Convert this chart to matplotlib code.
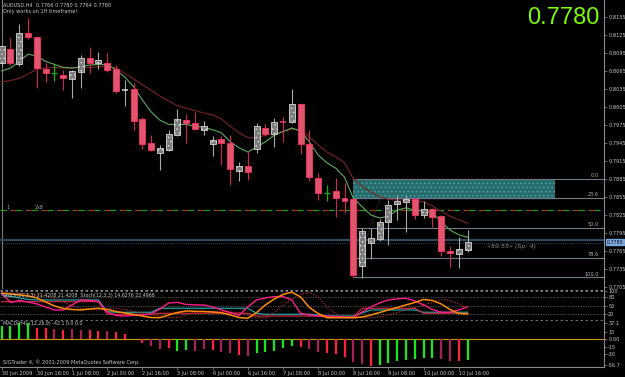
import numpy as np
import matplotlib
matplotlib.use('Agg')
import matplotlib.pyplot as plt
from matplotlib.patches import Rectangle

# AUDUSD H4 bars, 30 Jun 2009 00:00 .. 10 Jul 2009 20:00
opens = [0.8078, 0.8102, 0.8077, 0.8128, 0.8121, 0.8069, 0.8061, 0.8058, 0.8052, 0.8064,
         0.8087, 0.8078, 0.8079, 0.8068, 0.8033, 0.8035, 0.7985, 0.7945, 0.7928, 0.7933,
         0.7958, 0.7983, 0.7978, 0.7967, 0.7943, 0.7952, 0.7945, 0.7899, 0.7907, 0.7935,
         0.7970, 0.7960, 0.7980, 0.7980, 0.8010, 0.7943, 0.7887, 0.7862, 0.7865, 0.7854,
         0.7851, 0.7740, 0.7779, 0.7785, 0.7813, 0.7843, 0.7847, 0.7852, 0.7825, 0.7835,
         0.7823, 0.7765, 0.7760, 0.7766]
highs = [0.8108, 0.8120, 0.8143, 0.8154, 0.8122, 0.8078, 0.8076, 0.8067, 0.8067, 0.8092,
         0.8105, 0.8097, 0.8095, 0.8075, 0.8050, 0.8045, 0.7988, 0.7958, 0.7942, 0.7966,
         0.8001, 0.7993, 0.7996, 0.7981, 0.7957, 0.7957, 0.7958, 0.7914, 0.7932, 0.7978,
         0.7976, 0.7986, 0.7989, 0.8035, 0.8011, 0.7967, 0.7895, 0.7875, 0.7886, 0.7878,
         0.7852, 0.7803, 0.7803, 0.7818, 0.7850, 0.7858, 0.7858, 0.7855, 0.7849, 0.7836,
         0.7825, 0.7773, 0.7789, 0.7800]
lows = [0.8073, 0.8075, 0.8073, 0.8118, 0.8037, 0.8047, 0.8048, 0.8033, 0.8020, 0.8036,
        0.8062, 0.8069, 0.8064, 0.8028, 0.8006, 0.7967, 0.7935, 0.7932, 0.7900, 0.7932,
        0.7957, 0.7945, 0.7966, 0.7958, 0.7923, 0.7908, 0.7875, 0.7882, 0.7883, 0.7928,
        0.7957, 0.7939, 0.7947, 0.7978, 0.7927, 0.7881, 0.7850, 0.7849, 0.7822, 0.7828,
        0.7721, 0.7720, 0.7751, 0.7782, 0.7775, 0.7817, 0.7796, 0.7818, 0.7820, 0.7805,
        0.7756, 0.7738, 0.7736, 0.7764]
closes = [0.8106, 0.8078, 0.8129, 0.8121, 0.8070, 0.8062, 0.8061, 0.8053, 0.8065, 0.8086,
          0.8079, 0.8083, 0.8067, 0.8032, 0.8034, 0.7982, 0.7944, 0.7933, 0.7936, 0.7960,
          0.7985, 0.7978, 0.7968, 0.7973, 0.7950, 0.7945, 0.7901, 0.7907, 0.7896, 0.7973,
          0.7960, 0.7980, 0.7979, 0.8010, 0.7943, 0.7888, 0.7861, 0.7862, 0.7853, 0.7849,
          0.7725, 0.7799, 0.7786, 0.7813, 0.7841, 0.7849, 0.7852, 0.7825, 0.7835, 0.7822,
          0.7765, 0.7762, 0.7768, 0.7780]

ma_fast = [0.8065, 0.8070, 0.8081, 0.8093, 0.8090, 0.8081, 0.8076, 0.8071, 0.8070, 0.8072,
           0.8075, 0.8076, 0.8076, 0.8067, 0.8055, 0.8039, 0.8017, 0.7997, 0.7983, 0.7976,
           0.7976, 0.7976, 0.7973, 0.7971, 0.7967, 0.7962, 0.7947, 0.7937, 0.7930, 0.7938,
           0.7947, 0.7958, 0.7964, 0.7970, 0.7965, 0.7947, 0.7925, 0.7912, 0.7903, 0.7888,
           0.7853, 0.7839, 0.7825, 0.7820, 0.7823, 0.7833, 0.7837, 0.7833, 0.7832, 0.7828,
           0.7814, 0.7800, 0.7792, 0.7788]
ma_slow = [0.8047, 0.8049, 0.8053, 0.8060, 0.8068, 0.8070, 0.8071, 0.8070, 0.8070, 0.8070,
           0.8071, 0.8072, 0.8073, 0.8070, 0.8061, 0.8052, 0.8042, 0.8033, 0.8023, 0.8015,
           0.8007, 0.8003, 0.7999, 0.7995, 0.7992, 0.7985, 0.7973, 0.7962, 0.7954, 0.7953,
           0.7958, 0.7962, 0.7964, 0.7968, 0.7967, 0.7955, 0.7942, 0.7930, 0.7922, 0.7912,
           0.7886, 0.7873, 0.7863, 0.7855, 0.7851, 0.7850, 0.7850, 0.7849, 0.7847, 0.7840,
           0.7831, 0.7823, 0.7817, 0.7811]

# stochastic window
sto_orange = [91.8, 89.4, 86.0, 82.6, 75.8, 62.1, 48.5, 39.9, 36.5, 34.8,
              38.2, 40.6, 36.5, 29.7, 24.6, 19.5, 14.3, 9.2, 8.5, 17.7,
              26.3, 31.4, 30.4, 29.4, 28.0, 25.3, 17.7, 9.2, 6.5, 26.3,
              51.9, 72.0, 87.7, 95.2, 79.2, 43.3, 22.9, 8.5, 8.5, 8.5,
              8.5, 10.9, 17.7, 26.3, 34.8, 43.3, 51.9, 60.4, 70.6, 67.2,
              55.3, 36.5, 22.9, 21.2]
sto_signal = [93.0, 92.5, 91.8, 89.4, 86.0, 82.6, 75.8, 62.1, 48.5, 39.9,
              36.5, 34.8, 38.2, 40.6, 36.5, 29.7, 24.6, 19.5, 14.3, 9.2,
              8.5, 17.7, 26.3, 31.4, 30.4, 29.4, 28.0, 25.3, 17.7, 9.2,
              6.5, 26.3, 51.9, 72.0, 87.7, 95.2, 79.2, 43.3, 22.9, 8.5,
              8.5, 8.5, 8.5, 10.9, 17.7, 26.3, 34.8, 43.3, 51.9, 60.4,
              70.6, 67.2, 55.3, 36.5]
sto_pink = [91.8, 60.4, 67.2, 62.1, 55.3, 45.1, 34.8, 34.8, 51.9, 68.9,
            67.2, 63.8, 28.0, 16.0, 14.3, 16.0, 17.7, 21.2, 38.2, 58.7,
            60.4, 53.6, 51.9, 51.9, 45.1, 34.8, 26.3, 16.0, 45.1, 68.9,
            75.8, 80.2, 80.2, 68.9, 23.5, 17.7, 14.3, 14.3, 12.6, 10.9,
            9.2, 28.0, 45.1, 58.7, 68.9, 72.4, 74.7, 65.5, 51.9, 36.5,
            27.0, 27.0, 34.8, 46.1]
sto_teal = [86.0, 80.9, 75.8, 70.6, 68.9, 68.9, 68.9, 68.9, 68.9, 68.9,
            68.9, 68.9, 29.0, 27.0, 27.0, 27.0, 27.0, 27.0, 40.6, 40.6,
            40.6, 40.6, 40.6, 40.6, 40.6, 40.6, 40.6, 40.6, 40.6, 23.5,
            20.1, 20.1, 20.1, 20.1, 20.1, 20.1, 17.7, 14.3, 14.3, 14.3,
            14.3, 24.6, 34.8, 34.8, 34.8, 34.8, 34.8, 34.8, 27.0, 27.0,
            27.0, 27.0, 27.0, 27.0]
sto_crimson = [63.1, 63.1, 63.1, 63.1, 63.1, 63.1, 63.1, 63.1, 63.1, 63.1,
               63.1, 63.1, 20.1, 20.1, 20.1, 20.1, 20.1, 20.1, 23.5, 23.5,
               23.5, 23.5, 23.5, 23.5, 23.5, 23.5, 23.5, 23.5, 23.5, 14.3,
               14.3, 14.3, 14.3, 14.3, 14.3, 14.3, 14.3, 10.9, 10.9, 10.9,
               10.9, 40.6, 40.6, 40.6, 40.6, 40.6, 40.6, 40.6, 23.5, 23.5,
               23.5, 23.5, 23.5, 23.5]

# MACD histogram
macd = [25.9, 26.9, 32.4, 33.7, 23.5, 22.2, 20.2, 18.8, 20.2, 18.8,
        18.8, 17.3, 17.3, 15.3, 10.0, -0.6, -8.4, -13.9, -20.6, -18.6,
        -23.5, -22.0, -23.5, -20.6, -22.0, -25.5, -28.8, -32.2, -34.3, -28.8,
        -25.5, -24.1, -18.6, -13.3, -14.9, -19.4, -25.5, -28.8, -30.8, -35.7,
        -45.9, -50.6, -54.1, -52.7, -49.2, -44.5, -42.4, -40.4, -39.0, -37.8,
        -41.0, -43.9, -43.9, -42.4]
macd_state = list('ggggrrcrccrrcrrrrccrggccrccrcgggggrccrrrccrgggggggccrg')

time_labels = ['30 Jun 2009', '30 Jun 16:00', '1 Jul 08:00', '2 Jul 00:00', '2 Jul 16:00',
               '3 Jul 08:00', '6 Jul 00:00', '6 Jul 16:00', '7 Jul 08:00', '8 Jul 00:00',
               '8 Jul 16:00', '9 Jul 08:00', '10 Jul 00:00', '10 Jul 16:00']
price_ticks = [0.8155, 0.8125, 0.8095, 0.8065, 0.8035, 0.8005, 0.7975, 0.7945, 0.7915,
               0.7885, 0.7855, 0.7825, 0.7795, 0.7765, 0.7735, 0.7705]

fib_start = 40
fib_levels = [0.7885, 0.7853, 0.7803, 0.7754, 0.7721]
fib_names = ['0.0', '23.6', '50.0', '78.6', '100.0']
zone_lo, zone_hi, zone_end = 0.7853, 0.7885, 63
level_line = 0.7833
ask_line, bid_line = 0.7783, 0.7779

W, H = 625, 377
n = len(opens)
x = np.arange(n)
xlim = (-0.19, 68.52)
txt = '#c8c8c8'
grid = '#8a8a8a'


def box(top, bottom, right=604):
    return [0, 1 - bottom / H, right / W, (bottom - top) / H]


fig = plt.figure(figsize=(W / 100, H / 100), dpi=100, facecolor='black')
plt.rcParams['hatch.linewidth'] = 0.6

ax = fig.add_axes(box(0, 289))
ax_s = fig.add_axes(box(290, 321))
ax_m = fig.add_axes(box(321, 367))

for a in (ax, ax_s, ax_m):
    a.set_facecolor('black')
    a.set_xlim(*xlim)
    for s in ('top', 'left', 'bottom'):
        a.spines[s].set_visible(False)
    a.spines['right'].set_color(grid)
    a.spines['right'].set_linewidth(0.8)
    a.yaxis.tick_right()
    a.tick_params(axis='y', colors=grid, labelcolor=txt, labelsize=3.6,
                  length=2, width=0.5, pad=1)
    a.tick_params(axis='x', bottom=False, labelbottom=False)

# ---- main price window
ax.set_ylim(0.8155 - 272 / 6000, 0.8155 + 17 / 6000)
ax.set_yticks(price_ticks)
ax.set_yticklabels(['%.4f' % p for p in price_ticks])
ax.axvline(0, color='#7a7a7a', lw=0.8)

# zone and fibo
ax.add_patch(Rectangle((fib_start, zone_lo), zone_end - fib_start, zone_hi - zone_lo,
                       facecolor='#276c6c', edgecolor='#49a3a0', hatch='....', lw=0, zorder=1))
ax.plot([fib_start, zone_end], [zone_lo, zone_lo], color='#4a7ab8', lw=0.9, zorder=2)
for lv, nm in zip(fib_levels, fib_names):
    ax.plot([fib_start, xlim[1]], [lv, lv], color='#6f7c88', lw=0.8, zorder=2)
    ax.text(67.9, lv + 0.00012, nm, color='#b0b0b0', fontsize=3.6, ha='right', va='bottom')
ax.plot([fib_start, 43.8], [fib_levels[-1], fib_levels[0]], color='#555555', lw=0.6,
        ls=(0, (1, 1.5)), zorder=2)

# horizontal lines
ax.axhline(level_line, color='#1f9a1f', lw=0.9, ls=(0, (5, 3, 1.5, 3)), zorder=2)
ax.axhline(level_line, color='#b02828', lw=0.9, ls=(3.5, (3.5, 9)), zorder=2)
ax.axhline(ask_line, color='#2e4a58', lw=1.6, zorder=2)
ax.axhline(bid_line, color='#3f5f70', lw=0.6, ls=(0, (1, 1.5)), zorder=2)
ax.text(0.6, level_line + 0.0002, '1', color='#b0b0b0', fontsize=3.4)
ax.text(3.8, level_line + 0.0002, '2x8', color='#b0b0b0', fontsize=3.4)

# moving averages
ax.plot(x, ma_slow, color='#7a2424', lw=0.8, zorder=3)
ax.plot(x, ma_fast, color='#5cab5c', lw=0.8, zorder=3)

# candles
bw = 0.68
for i in range(n):
    o, h, l, c = opens[i], highs[i], lows[i], closes[i]
    if o == c:
        ax.vlines(i, l, h, color='#16b016', lw=0.9, zorder=4)
        ax.hlines(o, i - bw / 2, i + bw / 2, color='#16b016', lw=0.9, zorder=4)
        continue
    up = c > o
    wick = '#a8a8a8' if up else '#d0245a'
    ax.vlines(i, l, h, color=wick, lw=0.8, zorder=4)
    if abs(c - o) < 0.00025:
        ax.hlines((o + c) / 2, i - bw / 2, i + bw / 2, color='#d8d8d8' if up else '#ff3a6a',
                  lw=1.1, zorder=5)
        continue
    if up:
        ax.bar(i, c - o, bottom=o, width=bw, facecolor='#7c7c7c', edgecolor='#d4d4d4',
               hatch='....', lw=0.6, zorder=5)
    else:
        ax.bar(i, o - c, bottom=c, width=bw, facecolor='#e0566e', edgecolor='#ff2f62',
               lw=0.6, zorder=5)

ax.text(55.2, 0.7772, '\u00ab59:55\u00bb (Sp: 4)', color='#8c8c8c', fontsize=4.6,
        style='italic', va='center')
ax.text(1.004, bid_line + 0.0001, '0.7780', transform=ax.get_yaxis_transform(),
        color='#101010', fontsize=3.4, va='center', ha='left',
        bbox=dict(boxstyle='square,pad=0.1', facecolor='#7aa6de', edgecolor='#7aa6de'))

# ---- stochastic window
ax_s.set_ylim(-2.7, 102.7)
ax_s.set_yticks([100, 80, 50, 20])
ax_s.set_yticklabels(['100', '80', '50', '20'])
for lv in (80, 50, 20):
    ax_s.axhline(lv, color='#5a5a5a', lw=0.6, ls=(0, (1.5, 1.5)))
for lv in (101.5, -1.5):
    ax_s.axhline(lv, color='#8a8a8a', lw=1.8, ls=(0, (1, 1)))
ax_s.plot(x, sto_teal, color='#20a0a0', lw=0.9)
ax_s.plot(x, sto_crimson, color='#c0283c', lw=0.9)
ax_s.plot(x, sto_signal, color='#d02a2a', lw=0.8, ls=(0, (1, 1.5)))
ax_s.plot(x, sto_pink, color='#ff1c8c', lw=1.0)
ax_s.plot(x, sto_orange, color='#ff8c00', lw=1.1)

# ---- MACD window
ax_m.set_ylim(-56.7, 37.1)
ax_m.set_yticks([33.0, 15, 0, -15, -30, -53.0])
ax_m.set_yticklabels(['37.1', '15', '0.00', '-15', '-30', '-56.7'])
ax_m.axhline(0, color='#c89a10', lw=0.8)
cmap = {'g': '#19e619', 'r': '#ff2040', 'c': '#a8205a'}
ax_m.vlines(x, 0, macd, colors=[cmap[s] for s in macd_state], lw=1.6)

ax_m.spines['bottom'].set_visible(True)
ax_m.spines['bottom'].set_color(grid)
ax_m.spines['bottom'].set_linewidth(0.8)
ax_m.tick_params(axis='x', bottom=True, labelbottom=True, colors=grid, labelcolor=txt,
                 labelsize=3.6, length=2, width=0.5, pad=1)
ax_m.set_xticks(np.arange(0, n, 4))
ax_m.set_xticklabels(time_labels, ha='left')

# ---- header texts
fig.text(3 / W, 1 - 5 / H, 'AUDUSD,H4  0.7766 0.7780 0.7764 0.7780', color=txt,
         fontsize=3.6, va='center')
fig.text(3 / W, 1 - 11 / H, 'Only works on 1H timeframe!', color=txt, fontsize=3.6,
         va='center')
fig.text(599 / W, 1 - 18 / H, '0.7780', color='#7cfc00', fontsize=17,
         family='Liberation Sans', ha='right', va='center')
fig.text(3 / W, 1 - 296 / H, 'Stoch(21,3,3) 21.4208 21.4208  Stoch(12,3,3) 14.6276 22.4968',
         color=txt, fontsize=3.4, va='center')
fig.text(3 / W, 1 - 323.5 / H, 'MACD(H4) (12,26,9) -42.1 0.0 0.0', color=txt,
         fontsize=3.4, va='center')
fig.text(3 / W, 1 - 362.5 / H, 'SIGTrader 4, \u00a9 2001-2009 MetaQuotes Software Corp.',
         color=txt, fontsize=3.6, va='center')

fig.savefig('out.png', dpi=100, facecolor='black')
